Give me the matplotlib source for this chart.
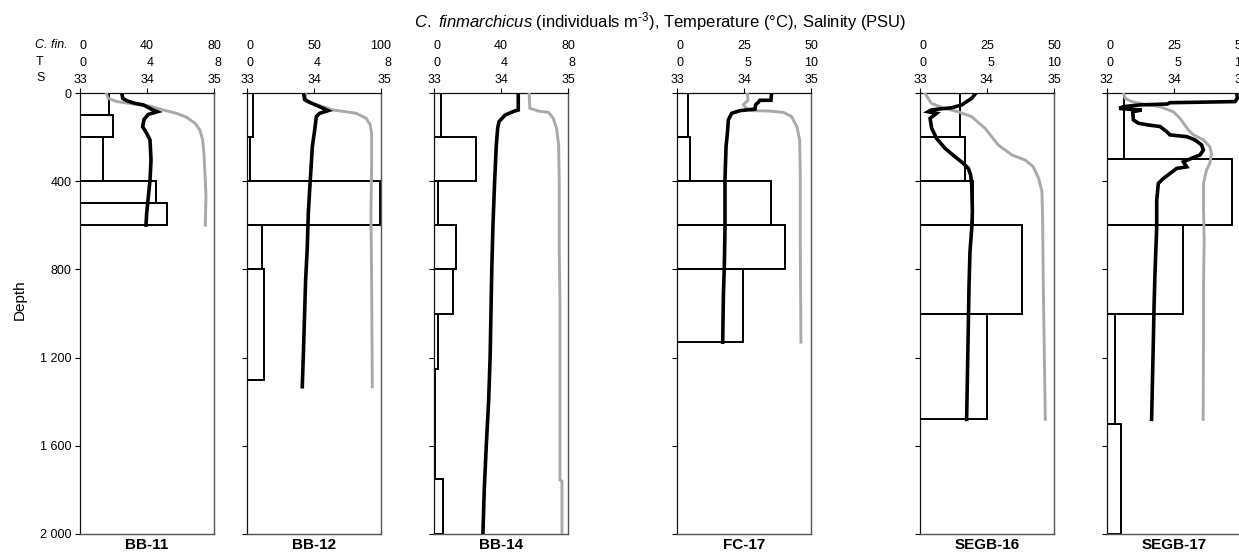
import matplotlib
matplotlib.use('Agg')
import matplotlib.pyplot as plt
import numpy as np

plt.rcParams['font.family'] = ['Liberation Sans', 'DejaVu Sans']
plt.rcParams['mathtext.fontset'] = 'custom'
plt.rcParams['mathtext.rm'] = 'Liberation Sans'
plt.rcParams['mathtext.it'] = 'Liberation Sans:italic'

# ---------------- data ----------------
station_names = ['BB-11', 'BB-12', 'BB-14', 'FC-17', 'SEGB-16', 'SEGB-17']
cfin_max = [80, 100, 80, 50, 50, 50]
temp_max = [8, 8, 8, 10, 10, 10]
sal_min = [33, 33, 33, 33, 33, 32]
sal_max = [35, 35, 35, 35, 35, 36]
depth_ticks = [0, 400, 800, 1200, 1600, 2000]
depth_tick_labels = ['0', '400', '800', '1 200', '1 600', '2 000']

# BB-11
bb11_edges = [0, 100, 200, 400, 500, 600]
bb11_cfin = [17.5, 19.5, 13.5, 45.5, 52]
bb11_t_depth = [0, 24, 35, 47, 54, 74, 85, 97, 120, 153, 183, 213, 304, 395, 470, 546, 599]
bb11_t = [2.49, 2.55, 2.79, 3.28, 3.78, 4.28, 4.62, 4.08, 3.82, 3.74, 3.98, 4.18, 4.24, 4.18, 4.08, 3.98, 3.94]
bb11_s_depth = [0, 24, 39, 50, 59, 77, 92, 110, 138, 168, 213, 274, 395, 470, 599]
bb11_s = [33.39, 33.42, 33.55, 33.80, 34.04, 34.24, 34.44, 34.59, 34.72, 34.79, 34.83, 34.85, 34.87, 34.88, 34.87]

# BB-12
bb12_edges = [0, 200, 400, 600, 800, 1300]
bb12_cfin = [4.5, 2.5, 99, 11.5, 13]
bb12_t_depth = [0, 30, 42, 59, 80, 92, 107, 168, 244, 319, 440, 546, 697, 848, 999, 1150, 1332]
bb12_t = [3.38, 3.44, 3.74, 4.24, 4.84, 4.34, 4.14, 4.04, 3.90, 3.84, 3.74, 3.66, 3.60, 3.50, 3.44, 3.38, 3.30]
bb12_s_depth = [0, 39, 50, 62, 77, 85, 92, 115, 145, 183, 319, 546, 848, 1332]
bb12_s = [33.87, 33.88, 33.99, 34.13, 34.28, 34.48, 34.63, 34.78, 34.84, 34.86, 34.86, 34.85, 34.86, 34.87]

# BB-14
bb14_edges = [0, 200, 400, 600, 800, 1000, 1250, 1500, 1750, 2000]
bb14_cfin = [4.0, 25, 2.6, 13, 11.3, 2.6, 0.5, 0.5, 5.6]
bb14_t_depth = [0, 77, 82, 100, 130, 160, 236, 400, 600, 800, 1000, 1200, 1400, 1600, 1800, 2000]
bb14_t = [5.03, 5.03, 4.80, 4.24, 3.88, 3.80, 3.72, 3.62, 3.52, 3.45, 3.40, 3.35, 3.26, 3.12, 3.00, 2.92]
bb14_s_depth = [0, 69, 82, 88, 115, 160, 236, 417, 720, 946, 1755, 1760, 2000]
bb14_s = [34.42, 34.43, 34.56, 34.71, 34.78, 34.83, 34.86, 34.87, 34.87, 34.88, 34.88, 34.91, 34.91]

# FC-17
fc17_edges = [0, 200, 400, 600, 800, 1130]
fc17_cfin = [4.2, 4.85, 35, 40.4, 24.5]
fc17_t_depth = [0, 33, 33, 42, 53, 73, 80, 92, 122, 168, 244, 395, 622, 788, 924, 1130]
fc17_t = [7.06, 7.01, 6.19, 6.07, 5.87, 5.82, 4.70, 4.08, 3.83, 3.78, 3.66, 3.58, 3.58, 3.53, 3.46, 3.41]
fc17_s_depth = [0, 33, 53, 68, 80, 82, 88, 107, 153, 213, 364, 697, 1130]
fc17_s = [34.05, 34.06, 33.99, 34.03, 34.11, 34.39, 34.59, 34.71, 34.79, 34.83, 34.84, 34.84, 34.85]

# SEGB-16
segb16_edges = [0, 200, 400, 600, 1000, 1480]
segb16_cfin = [14.9, 16.8, 19.9, 38.2, 24.9]
segb16_t_depth = [0, 24, 54, 67, 73, 77, 85, 92, 115, 160, 206, 251, 289, 319, 342, 372, 417, 538, 614, 720, 870, 1480]
segb16_t = [4.18, 3.86, 3.11, 2.36, 1.37, 0.87, 0.62, 1.24, 0.75, 0.87, 1.24, 1.87, 2.61, 3.23, 3.61, 3.78, 3.86, 3.91, 3.86, 3.73, 3.66, 3.48]
segb16_s_depth = [0, 47, 70, 85, 107, 160, 236, 281, 304, 334, 387, 447, 568, 870, 1480]
segb16_s = [33.07, 33.17, 33.37, 33.57, 33.77, 33.97, 34.17, 34.37, 34.57, 34.69, 34.77, 34.82, 34.83, 34.84, 34.87]

# SEGB-17
segb17_edges = [0, 300, 600, 1000, 1500, 2000]
segb17_cfin = [6.5, 46.6, 28.5, 3.0, 5.2]
segb17_t_depth = [0, 24, 39, 44, 50, 54, 62, 70, 74, 77, 85, 122, 137, 145, 152, 175, 190, 198, 213, 236, 259,
                  281, 296, 312, 335, 342, 365, 388, 410, 486, 607, 819, 970, 1121, 1480]
segb17_t = [9.68, 9.73, 9.55, 4.70, 4.50, 2.46, 1.22, 0.92, 1.72, 2.59, 1.92, 1.97, 2.34, 3.08, 3.96, 4.45, 4.70,
            5.95, 6.57, 7.06, 7.19, 6.94, 6.32, 5.70, 5.95, 5.20, 4.70, 4.20, 3.83, 3.71, 3.71, 3.58, 3.51, 3.46, 3.33]
segb17_s_depth = [0, 24, 39, 50, 62, 85, 115, 168, 190, 213, 244, 274, 319, 350, 410, 516, 667, 894, 1121, 1480]
segb17_s = [32.49, 32.54, 32.74, 33.08, 33.58, 33.98, 34.18, 34.43, 34.58, 34.88, 35.07, 35.12, 35.07, 34.97,
            34.88, 34.88, 34.90, 34.88, 34.88, 34.87]

stations = [
    (bb11_edges, bb11_cfin, bb11_t_depth, bb11_t, bb11_s_depth, bb11_s),
    (bb12_edges, bb12_cfin, bb12_t_depth, bb12_t, bb12_s_depth, bb12_s),
    (bb14_edges, bb14_cfin, bb14_t_depth, bb14_t, bb14_s_depth, bb14_s),
    (fc17_edges, fc17_cfin, fc17_t_depth, fc17_t, fc17_s_depth, fc17_s),
    (segb16_edges, segb16_cfin, segb16_t_depth, segb16_t, segb16_s_depth, segb16_s),
    (segb17_edges, segb17_cfin, segb17_t_depth, segb17_t, segb17_s_depth, segb17_s),
]

# ---------------- layout ----------------
W, H = 1239, 554
fig = plt.figure(figsize=(W / 100, H / 100), dpi=100)
panel_left_px = [80, 247, 434, 677, 920, 1107]
panel_w_px = 134
top_px, bot_px = 93, 534
FS = 9


def fmt(v):
    return f"{v:g}"


for i, (edges, cfin, td, tv, sd, sv) in enumerate(stations):
    l = panel_left_px[i]
    ax = fig.add_axes([l / W, 1 - bot_px / H, panel_w_px / W, (bot_px - top_px) / H])
    ax.set_ylim(2000, 0)
    ax.set_xlim(0, cfin_max[i])
    tops = np.array(edges[:-1])
    heights = np.diff(edges)
    ax.barh(tops, cfin, height=heights, left=0, align='edge', facecolor='none',
            edgecolor='black', linewidth=1.4)

    axs = ax.twiny()
    axs.set_xlim(sal_min[i], sal_max[i])
    axs.plot(sv, sd, color='#a9a9a9', linewidth=2.1, solid_joinstyle='miter')
    axs.axis('off')

    axt = ax.twiny()
    axt.set_xlim(0, temp_max[i])
    axt.plot(tv, td, color='black', linewidth=2.6, solid_joinstyle='miter')
    axt.axis('off')

    # top ticks
    cm, tm = cfin_max[i], temp_max[i]
    smn, smx = sal_min[i], sal_max[i]
    ax.set_xticks([0, cm / 2, cm])
    labels = [f"{fmt(0)}\n{fmt(0)}\n{fmt(smn)}",
              f"{fmt(cm / 2)}\n{fmt(tm / 2)}\n{fmt((smn + smx) / 2)}",
              f"{fmt(cm)}\n{fmt(tm)}\n{fmt(smx)}"]
    ax.tick_params(axis='x', top=True, bottom=False, labeltop=True, labelbottom=False,
                   direction='out', length=3.8, width=0.8, pad=1.5)
    ax.set_xticklabels(labels, fontsize=FS, multialignment='right', linespacing=1.55)

    ax.set_yticks(depth_ticks)
    if i == 0:
        ax.set_yticklabels(depth_tick_labels, fontsize=FS)
    else:
        ax.set_yticklabels([])
    ax.tick_params(axis='y', left=True, right=False, direction='out', length=3.8, width=0.8, pad=2.5)

    for side in ['left', 'top']:
        ax.spines[side].set_color('#111111')
        ax.spines[side].set_linewidth(0.9)
    for side in ['right', 'bottom']:
        ax.spines[side].set_color('#555555')
        ax.spines[side].set_linewidth(1.0)

    ax.text(0.5, -0.01, station_names[i], transform=ax.transAxes, ha='center', va='top',
            fontweight='bold', fontsize=11)

# row labels
fig.text(35 / W, 1 - 45 / H, 'C. fin.', style='italic', ha='left', va='center', fontsize=FS)
fig.text(36 / W, 1 - 62 / H, 'T', ha='left', va='center', fontsize=FS)
fig.text(36 / W, 1 - 78 / H, 'S', ha='left', va='center', fontsize=FS)

# title
fig.text(660 / W, 1 - 22 / H,
         r"$\it{C.\ finmarchicus}$ (individuals m$^{\text{-3}}$), Temperature (°C), Salinity (PSU)",
         ha='center', va='center', fontsize=12)

# depth label
fig.text(20 / W, 1 - 300 / H, 'Depth', rotation=90, ha='center', va='center', fontsize=11)

fig.savefig('out.png', dpi=100)
